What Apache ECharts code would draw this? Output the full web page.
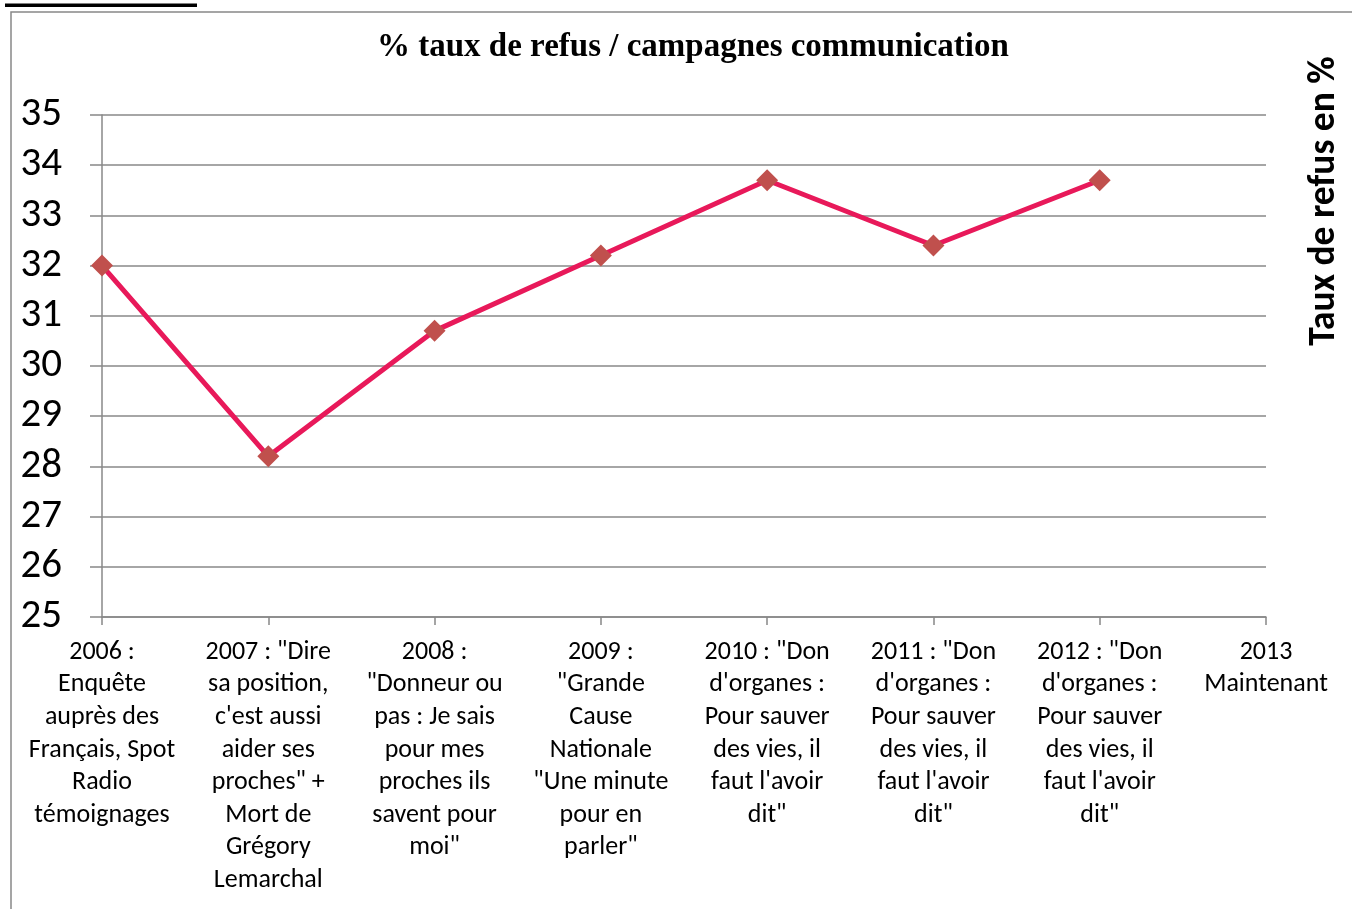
<!DOCTYPE html>
<html>
<head>
    <meta charset="utf-8">
    <script src="https://cdn.jsdelivr.net/npm/echarts@6/dist/echarts.min.js"></script>
    <style>
        html, body { margin: 0; padding: 0; background: #fff; }
    </style>
</head>
<body>
    <div id="main" style="width: 1352px;height:909px;"></div>
    <script type="text/javascript">

    var titleText = '% taux de refus / campagnes communication';
    var axisName = 'Taux de refus en %';
    var categories = [
        '2006 :\nEnquête\nauprès des\nFrançais, Spot\nRadio\ntémoignages',
        '2007 : "Dire\nsa position,\nc\'est aussi\naider ses\nproches" +\nMort de\nGrégory\nLemarchal',
        '2008 :\n"Donneur ou\npas : Je sais\npour mes\nproches ils\nsavent pour\nmoi"',
        '2009 :\n"Grande\nCause\nNationale\n"Une minute\npour en\nparler"',
        '2010 : "Don\nd\'organes :\nPour sauver\ndes vies, il\nfaut l\'avoir\ndit"',
        '2011 : "Don\nd\'organes :\nPour sauver\ndes vies, il\nfaut l\'avoir\ndit"',
        '2012 : "Don\nd\'organes :\nPour sauver\ndes vies, il\nfaut l\'avoir\ndit"',
        '2013\nMaintenant'
    ];
    var refusRate = [32.0, 28.2, 30.7, 32.2, 33.7, 32.4, 33.7, null];
    var yMin = 25, yMax = 35, yStep = 1;

    var sansFont = 'Carlito, Lato, "Open Sans", sans-serif';
    var serifFont = '"Liberation Serif", "Times New Roman", serif';

    var myChart = echarts.init(document.getElementById('main'));

    myChart.setOption({
        animation: false,
        backgroundColor: '#fff',
        title: {
            text: titleText,
            left: 377,
            top: 31,
            padding: 0,
            textStyle: {
                fontFamily: serifFont,
                fontWeight: 'bold',
                fontSize: 33,
                color: '#000'
            }
        },
        grid: {
            left: 102,
            right: 86,
            top: 115,
            bottom: 292,
            containLabel: false
        },
        xAxis: {
            type: 'category',
            data: categories,
            boundaryGap: false,
            axisLine: { lineStyle: { color: '#888', width: 1.5 } },
            axisTick: { show: true, length: 8, lineStyle: { color: '#888', width: 1.5 } },
            axisLabel: {
                interval: 0,
                margin: 19,
                fontFamily: sansFont,
                fontSize: 26,
                lineHeight: 32.6,
                color: '#000',
                align: 'center'
            },
            splitLine: { show: false }
        },
        yAxis: {
            type: 'value',
            min: yMin,
            max: yMax,
            interval: yStep,
            axisLine: { show: true, lineStyle: { color: '#888', width: 1.5 } },
            axisTick: { show: true, length: 12, lineStyle: { color: '#888', width: 1.5 } },
            axisLabel: {
                margin: 40,
                fontFamily: sansFont,
                fontSize: 41,
                color: '#000'
            },
            splitLine: { lineStyle: { color: '#888', width: 1.5 } }
        },
        series: [
            {
                type: 'line',
                data: refusRate,
                symbol: 'diamond',
                symbolSize: 22,
                lineStyle: { color: '#E8195A', width: 5 },
                itemStyle: { color: '#C0504D' },
                connectNulls: false,
                z: 5
            }
        ],
        graphic: [
            {
                type: 'rect',
                shape: { x: 11, y: 12, width: 1400, height: 950 },
                style: { fill: 'none', stroke: '#888', lineWidth: 1.5 },
                silent: true
            },
            {
                type: 'text',
                x: 5,
                y: -10,
                style: {
                    text: 'la Biomédecine',
                    fontFamily: serifFont,
                    fontWeight: 'bold',
                    fontSize: 30,
                    fill: '#000',
                    verticalAlign: 'middle'
                }
            },
            {
                type: 'rect',
                shape: { x: 5, y: 3.5, width: 192, height: 3.5 },
                style: { fill: '#000' }
            },
            {
                type: 'text',
                x: 1325,
                y: 201,
                rotation: Math.PI / 2,
                style: {
                    text: axisName,
                    fontFamily: sansFont,
                    fontWeight: 'bold',
                    fontSize: 37.5,
                    fill: '#000',
                    align: 'center',
                    verticalAlign: 'middle'
                }
            }
        ]
    });
    </script>
</body>
</html>
